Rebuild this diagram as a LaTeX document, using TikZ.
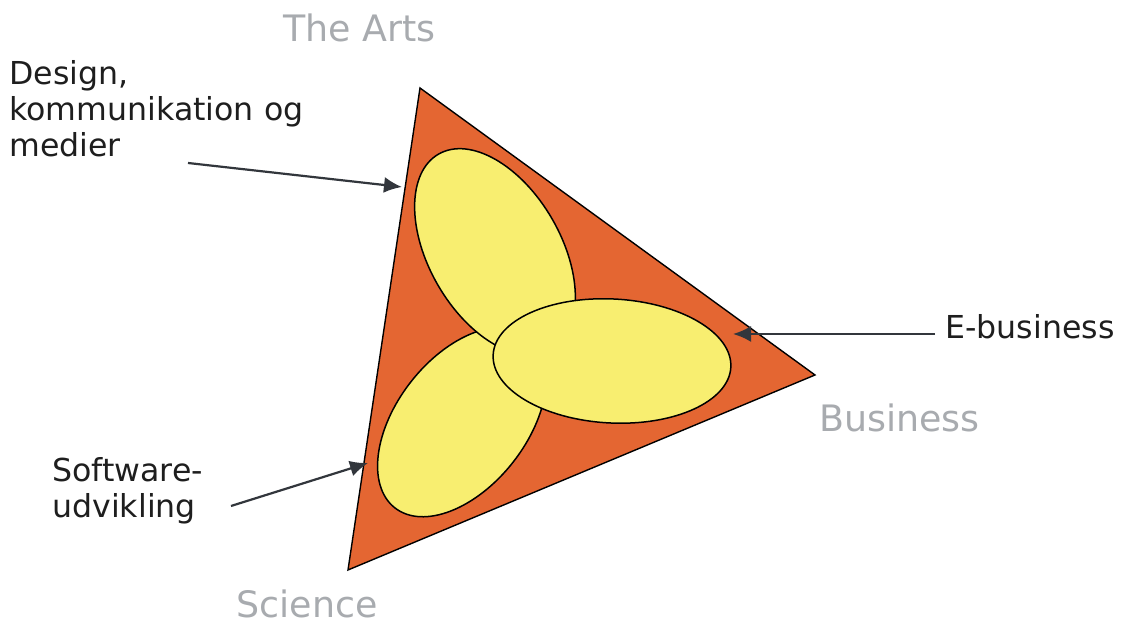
\documentclass[tikz,border=0pt]{standalone}
\usepackage{fontspec}
\setmainfont{DejaVu Sans}
\usetikzlibrary{arrows.meta}
\definecolor{triorange}{RGB}{228,102,50}
\definecolor{petalyellow}{RGB}{248,238,112}
\definecolor{cornergray}{RGB}{168,171,175}
\definecolor{labelblack}{RGB}{30,30,30}
\definecolor{arrowgray}{RGB}{50,54,60}

\begin{document}
\begin{tikzpicture}[x=0.5pt, y=0.5pt,
    corner/.style={text=cornergray, font=\fontsize{18.2}{21}\selectfont, inner sep=0pt, anchor=base west},
    area/.style={text=labelblack, font=\fontsize{15.8}{18}\selectfont, inner sep=0pt, anchor=base west, align=left},
    petal/.style={draw=black, line width=0.75pt, fill=petalyellow},
    pointer/.style={draw=arrowgray, line width=1.1pt, -{Latex[length=9pt,width=8pt]}}]
    \useasboundingbox (0,0) rectangle (1121,625);
    % triangle corners
    \coordinate (arts) at (420,537);
    \coordinate (science) at (348,55);
    \coordinate (business) at (815,250);
    \filldraw[fill=triorange, draw=black, line width=0.7pt] (arts) -- (business) -- (science) -- cycle;

    % the three petals
    \coordinate (swPetal) at (462,203);
    \coordinate (designPetal) at (495,373);
    \coordinate (ebizPetal) at (612,264);
    \draw[petal, rotate around={52:(swPetal)}] (swPetal) ellipse [x radius=109, y radius=65];
    \draw[petal, rotate around={-60:(designPetal)}] (designPetal) ellipse [x radius=113, y radius=66];
    \draw[petal, rotate around={-3:(ebizPetal)}] (ebizPetal) ellipse [x radius=119, y radius=62];

    % corner labels
    \node[corner] (artsLbl) at (283,583) {The Arts};
    \node[corner] (businessLbl) at (819,193) {Business};
    \node[corner] (scienceLbl) at (236,7) {Science};

    % area labels and pointers (base = last line)
    \node[area] (designLbl) at (9,468) {Design,\\kommunikation og\\medier};
    \node[area] (softwareLbl) at (52,107) {Software-\\udvikling};
    \node[area] (ebizLbl) at (945,286) {E-business};
    \coordinate (designStart) at (188,462);
    \coordinate (designTip) at (402,438);
    \coordinate (softwareStart) at (231,119);
    \coordinate (softwareTip) at (368,162);
    \coordinate (ebizStart) at (935,291);
    \coordinate (ebizTip) at (733,291);
    \draw[pointer] (designStart) -- (designTip);
    \draw[pointer] (softwareStart) -- (softwareTip);
    \draw[pointer] (ebizStart) -- (ebizTip);
\end{tikzpicture}
\end{document}
